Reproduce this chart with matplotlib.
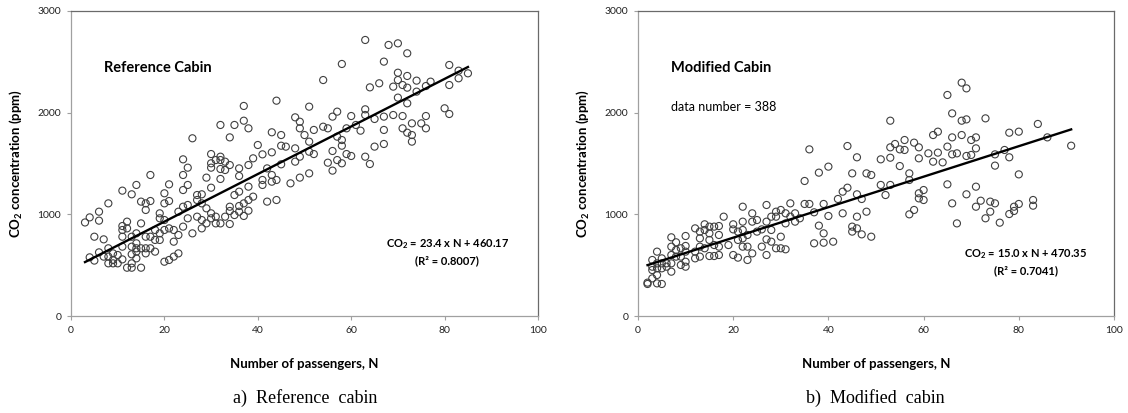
import numpy as np
import matplotlib
matplotlib.use("Agg")
import matplotlib.pyplot as plt

# 图中读取的数据点 (乘客数 N, CO2 浓度 ppm)
ref_n = [3, 4, 4, 5, 5, 6, 6, 6, 7, 7, 8, 8, 8, 8, 9, 9, 9, 10, 10,
         11, 11, 11, 11, 11, 11, 12, 12, 12, 13, 13, 13, 13, 13, 13,
         14, 14, 14, 14, 14, 14, 15, 15, 15, 15, 16, 16, 16, 16, 16,
         17, 17, 17, 17, 18, 18, 18, 19, 19, 19, 19, 20, 20, 20, 20, 20,
         21, 21, 21, 21, 22, 22, 22, 23, 23, 23, 24, 24, 24, 24, 24,
         25, 25, 25, 25, 26, 26, 27, 27, 27, 28, 28, 28, 28, 29, 29, 29,
         30, 30, 30, 30, 30, 30, 31, 31, 31, 32, 32, 32, 32, 32, 32,
         33, 33, 33, 34, 34, 34, 34, 34, 35, 35, 35, 36, 36, 36, 36, 36,
         37, 37, 37, 37, 38, 38, 38, 38, 38, 39, 39, 40, 41, 41, 41,
         42, 42, 43, 43, 43, 43, 44, 44, 44, 45, 45, 45, 46, 47,
         48, 48, 48, 49, 49, 49, 49, 50, 51, 51, 51, 51, 52, 52,
         54, 54, 55, 55, 56, 56, 56, 57, 57, 57, 58, 58, 58, 58, 59, 59,
         60, 60, 61, 62, 63, 63, 63, 63, 64, 64, 65, 65, 66,
         67, 67, 67, 67, 68, 69, 69, 70, 70, 70, 70, 71, 71, 71,
         72, 72, 72, 72, 72, 73, 73, 73, 74, 74, 75, 76, 76, 76, 77,
         80, 81, 81, 81, 83, 83, 85]
ref_co2 = [920, 970, 577, 780, 545, 1026, 938, 626, 754, 584, 1108, 666, 518, 584, 616, 551, 518, 600, 518,
           1233, 885, 846, 780, 682, 557, 928, 862, 475, 1197, 780, 682, 607, 475, 518,
           1289, 813, 715, 666, 633, 567, 1125, 911, 666, 475, 1108, 1043, 780, 666, 616,
           1387, 1131, 780, 666, 846, 748, 633, 1010, 961, 813, 748, 1207, 1108, 944, 846, 534,
           1295, 1131, 862, 551, 846, 731, 584, 1026, 797, 616, 1541, 1387, 1239, 1075, 879,
           1459, 1289, 1092, 961, 1748, 813, 1190, 1141, 977, 1197, 1108, 944, 862, 1361, 1059, 911,
           1593, 1502, 1459, 1262, 1010, 961, 1534, 977, 911, 1879, 1567, 1534, 1446, 1348, 911,
           1518, 1436, 977, 1757, 1485, 1075, 1033, 905, 1879, 1190, 993, 1452, 1377, 1223, 1082, 1026,
           2066, 1921, 1108, 984, 1846, 1485, 1272, 1141, 1036, 1551, 1174, 1682, 1590, 1338, 1289,
           1452, 1125, 1807, 1610, 1387, 1321, 2118, 1338, 1141, 1780, 1675, 1492, 1666, 1305,
           1954, 1649, 1518, 1911, 1846, 1567, 1361, 1780, 2059, 1715, 1616, 1403, 1830, 1593,
           2321, 1862, 1846, 1508, 1961, 1623, 1430, 2010, 1764, 1534, 2479, 1731, 1675, 1502, 1846, 1593,
           1967, 1574, 1879, 1823, 2715, 2033, 1977, 1567, 2249, 1495, 1938, 1666, 2289,
           2502, 1961, 1830, 1692, 2666, 2256, 1977, 2682, 2393, 2321, 2148, 2272, 1967, 1846,
           2584, 2361, 2246, 2092, 1803, 1895, 1780, 1715, 2315, 2207, 1895, 2262, 1967, 1846, 2305,
           2043, 2469, 2272, 1987, 2338, 2413, 2387]

mod_n = [2, 2, 3, 3, 3, 3, 4, 4, 4, 4, 4, 5, 5, 5, 5, 6, 6,
         7, 7, 7, 7, 7, 8, 8, 8, 9, 9, 9, 10, 10, 10, 10, 10,
         12, 12, 12, 13, 13, 13, 13, 14, 14, 14, 15, 15, 15, 15, 16, 16, 16,
         17, 17, 17, 17, 18, 19, 20, 20, 20, 21, 21, 21, 22, 22, 22, 22, 22,
         23, 23, 23, 24, 24, 24, 25, 25, 26, 26, 27, 27, 27, 27, 28, 28, 28,
         29, 29, 29, 30, 30, 30, 31, 31, 31, 32, 32, 33, 33, 34,
         35, 35, 36, 36, 37, 37, 38, 38, 39, 39, 39, 40, 40, 41, 42, 43, 43,
         44, 44, 45, 45, 45, 46, 46, 46, 46, 47, 47, 48, 48, 49, 49,
         51, 51, 52, 53, 53, 53, 53, 54, 55, 55, 56, 56, 57, 57, 57, 58, 58,
         59, 59, 59, 59, 60, 60, 61, 62, 62, 63, 63, 64, 65, 65, 65,
         66, 66, 66, 66, 67, 67, 68, 68, 68, 69, 69, 69, 69, 70, 70,
         71, 71, 71, 71, 72, 73, 73, 74, 74, 75, 75, 75, 76, 77, 78, 78, 78,
         79, 79, 80, 80, 80, 83, 83, 84, 86, 91]
mod_co2 = [315, 328, 370, 551, 485, 452, 633, 518, 469, 403, 321, 567, 518, 469, 315, 518, 485,
           774, 682, 600, 518, 436, 725, 649, 584, 666, 584, 502, 787, 689, 633, 534, 485,
           862, 633, 567, 830, 764, 682, 584, 902, 846, 666, 879, 813, 748, 590, 879, 698, 590,
           885, 797, 682, 600, 977, 698, 902, 852, 600, 830, 748, 574, 1075, 928, 846, 764, 682,
           797, 682, 551, 1010, 928, 616, 944, 830, 852, 682, 1092, 928, 754, 600, 977, 846, 731,
           1026, 977, 666, 1043, 780, 666, 1010, 911, 656, 1108, 977, 1010, 928, 961,
           1328, 1102, 1639, 1102, 1020, 715, 1410, 889, 1102, 813, 721, 1469, 984, 731, 1151, 1223, 1010,
           1672, 1262, 1403, 879, 830, 1561, 1197, 977, 862, 1151, 803, 1403, 1026, 1387, 780,
           1541, 1289, 1190, 1921, 1659, 1557, 1289, 1692, 1639, 1475, 1731, 1633, 1403, 1338, 1000, 1705, 1043,
           1659, 1551, 1207, 1157, 1239, 1141, 1600, 1780, 1518, 1813, 1607, 1511, 2174, 1666, 1295,
           1993, 1757, 1590, 1108, 1600, 911, 2295, 1921, 1780, 2239, 1934, 1574, 1197, 1731, 1584,
           1757, 1649, 1272, 1075, 1134, 1944, 961, 1125, 1026, 1590, 1479, 1108, 918, 1633, 1803, 1561, 1003,
           1075, 1033, 1813, 1393, 1102, 1141, 1085, 1889, 1757, 1675]

# 回归线参数 (图中给出)
ref_fit = (23.4, 460.17, 3, 85)
mod_fit = (15.0, 470.35, 2, 91)

plt.rcParams['font.family'] = ['Lato', 'DejaVu Sans']
plt.rcParams['mathtext.fontset'] = 'custom'
plt.rcParams['mathtext.rm'] = 'Lato'
plt.rcParams['mathtext.bf'] = 'Lato:bold'
plt.rcParams['mathtext.it'] = 'Lato:italic'

fig = plt.figure(figsize=(11.28, 4.13), dpi=100)
ax_l = fig.add_axes([71 / 1128, 1 - 316 / 413, 467 / 1128, 305 / 413])
ax_r = fig.add_axes([638 / 1128, 1 - 316 / 413, 476 / 1128, 305 / 413])


def draw_panel(ax, xs, ys, fit, title, eq, r2, extra=None):
    ax.scatter(xs, ys, s=26, facecolors='none', edgecolors='#404040', linewidths=0.8, zorder=3)
    a, b, x0, x1 = fit
    fx = np.array([x0, x1])
    ax.plot(fx, a * fx + b, color='black', lw=1.7, zorder=4)

    ax.set_xlim(0, 100)
    ax.set_ylim(0, 3000)
    ax.set_xticks(range(0, 101, 20))
    ax.set_yticks([0, 1000, 2000, 3000])
    ax.tick_params(direction='out', length=3, width=0.8, color='#a0a0a0',
                   labelsize=7.5, labelcolor='#222222', pad=4)
    for side in ('left', 'bottom'):
        ax.spines[side].set_color('#a0a0a0')
        ax.spines[side].set_linewidth(0.9)
    for side in ('top', 'right'):
        ax.spines[side].set_color('#6a6a6a')
        ax.spines[side].set_linewidth(0.9)

    ax.set_xlabel('Number of passengers, N', fontsize=9.5, fontweight='bold', labelpad=17)
    ax.set_ylabel(r'CO$_\mathbf{2}$ concentration (ppm)', fontsize=9.5, fontweight='bold', labelpad=10)

    ax.text(7, 2440, title, fontsize=10.5, fontweight='bold', ha='left', va='center')
    if extra:
        ax.text(7, 2060, extra, fontsize=9, ha='left', va='center')
    ax.text(eq[0], eq[1], eq[2], fontsize=8, fontweight='bold', ha='center', va='center')
    ax.text(r2[0], r2[1], r2[2], fontsize=8, fontweight='bold', ha='center', va='center')


draw_panel(ax_l, ref_n, ref_co2, ref_fit, 'Reference Cabin',
           (80.6, 709, r'CO$_\mathbf{2}$ = 23.4 x N + 460.17'),
           (80.6, 542, '(R² = 0.8007)'))
draw_panel(ax_r, mod_n, mod_co2, mod_fit, 'Modified Cabin',
           (81.5, 610, r'CO$_\mathbf{2}$ = 15.0 x N + 470.35'),
           (81.5, 445, '(R² = 0.7041)'),
           extra='data number = 388')

fig.text(305 / 1128, 1 - 398 / 413, 'a)  Reference  cabin', fontsize=13,
         family='Liberation Serif', ha='center', va='center')
fig.text(875 / 1128, 1 - 398 / 413, 'b)  Modified  cabin', fontsize=13,
         family='Liberation Serif', ha='center', va='center')

fig.savefig('out.png', dpi=100)
